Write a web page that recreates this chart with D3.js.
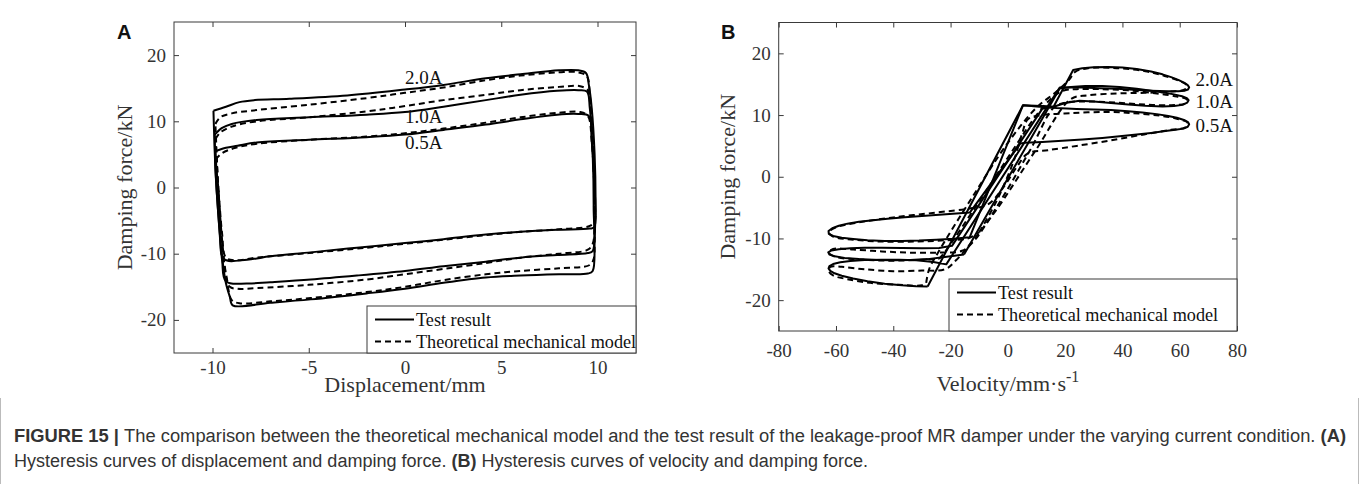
<!DOCTYPE html>
<html>
<head>
<meta charset="utf-8">
<script src="https://cdn.jsdelivr.net/npm/d3@7"></script>
<style>
  body { margin: 0; background: #fff; }
  svg { display: block; }
</style>
</head>
<body>
<svg id="chart" width="1360" height="484"></svg>
<script>
// ---- panel A : displacement (mm) vs damping force (kN) ----
const xTicksA = [-10, -5, 0, 5, 10];
const yTicksA = [-20, -10, 0, 10, 20];

const testA20 = [[-9.95,11.6],[-9.3,12.2],[-8.6,12.9],[-7.8,13.2],[-6,13.4],[-3,13.9],[0,14.8],[2,15.5],[4.2,16.5],[6,17.1],[8,17.7],[9.0,17.7],[9.4,17.3],[9.55,15.5],[9.7,12],[9.85,5],[9.9,-2],[9.85,-8],[9.75,-12.6],[9.5,-13.0],[8,-13.1],[6,-13.3],[4.2,-13.6],[2,-14.4],[0,-15.3],[-2,-16.0],[-4.9,-16.9],[-7,-17.4],[-8.95,-17.8],[-9.1,-16.5],[-9.3,-14.5],[-9.5,-10.5],[-9.7,-4],[-9.85,3],[-9.95,11.6]];
const testA10 = [[-9.88,8.0],[-9.5,9.0],[-9.0,9.6],[-7.7,10.2],[-5,10.6],[-2,11.0],[0,11.4],[2,12.2],[4.2,13.2],[6,14.0],[7.9,14.6],[9.0,14.7],[9.45,14.5],[9.6,12],[9.75,5],[9.8,-3],[9.75,-9.6],[9.5,-9.9],[7.9,-10.2],[6,-10.6],[4.2,-11.2],[2,-11.9],[0,-12.6],[-2.5,-13.3],[-4.9,-13.9],[-7,-14.3],[-8.2,-14.5],[-9.3,-14.2],[-9.5,-11],[-9.7,-4],[-9.85,3],[-9.88,8.0]];
const testA05 = [[-9.84,5.5],[-9.3,6.0],[-8.7,6.3],[-7.7,6.8],[-5,7.2],[-2,7.6],[0,8.0],[2,8.7],[4.2,9.5],[6,10.3],[7.9,11.0],[9.0,11.1],[9.55,10.8],[9.7,7],[9.85,0],[9.83,-6.0],[9.6,-6.2],[7.9,-6.4],[6,-6.7],[4.2,-7.1],[2,-7.8],[0,-8.4],[-2.5,-9.1],[-4.9,-9.8],[-7,-10.4],[-8.2,-10.9],[-9.4,-10.8],[-9.6,-6],[-9.75,0],[-9.84,5.5]];

const modelA20 = [[-9.85,9.6],[-9.6,10.6],[-9.0,11.2],[-8,11.6],[-5,12.5],[-2,13.5],[0,14.3],[2,15.1],[4.2,16.2],[6,16.9],[8,17.4],[9.0,17.4],[9.45,16.8],[9.6,14],[9.75,8],[9.85,0],[9.85,-8],[9.8,-10.8],[9.6,-11.7],[8,-12.2],[6,-12.6],[4.2,-13.1],[2,-14.0],[0,-15.0],[-2,-15.8],[-4.9,-16.7],[-7,-17.2],[-8.6,-17.5],[-9.0,-17.0],[-9.2,-15],[-9.5,-9],[-9.7,0],[-9.85,9.6]];
const modelA10 = [[-9.85,7.3],[-9.6,8.3],[-9.0,9.2],[-7.7,10.0],[-5,10.6],[-2,11.5],[0,12.3],[2,13.2],[4.2,14.0],[6,14.7],[8,15.2],[9.1,15.3],[9.5,14.7],[9.65,12],[9.8,4],[9.85,-5],[9.75,-8.5],[9.5,-9.4],[8,-10.0],[6,-10.6],[4.2,-11.4],[2,-12.3],[0,-13.1],[-2,-13.9],[-5,-14.7],[-7.7,-15.2],[-8.7,-15.3],[-9.1,-15.0],[-9.3,-13],[-9.5,-8],[-9.7,0],[-9.85,7.3]];
const modelA05 = [[-9.85,4.2],[-9.5,5.2],[-8.8,6.0],[-7.7,6.6],[-5,7.2],[-2,7.7],[0,8.2],[2,8.9],[4.2,9.8],[6,10.6],[8,11.3],[9.1,11.4],[9.5,10.8],[9.7,7],[9.85,-2],[9.85,-5.0],[9.6,-5.8],[8,-6.3],[6,-6.7],[4.2,-7.2],[2,-7.9],[0,-8.5],[-2,-9.1],[-5,-9.9],[-7.7,-10.6],[-8.8,-11.0],[-9.3,-10.6],[-9.5,-7],[-9.7,0],[-9.85,4.2]];

// ---- panel B : velocity (mm/s) vs damping force (kN) ----
const xTicksB = [-80, -60, -40, -20, 0, 20, 40, 60, 80];
const yTicksB = [-20, -10, 0, 10, 20];

const testB20 = [[-28,-17.8],[5.3,11.6],[16,11.4],[22.8,17.3],[26,17.6],[30,17.75],[35,17.8],[40,17.7],[45,17.45],[50,17.05],[54,16.6],[57,16.15],[59.5,15.7],[61.5,15.25],[62.8,14.85],[63.3,14.5],[62.9,14.15],[61.8,13.95],[59.5,13.85],[56,13.85],[50,13.95],[44,14.1],[38,14.25],[32,14.35],[26,14.45],[18.1,14.45],[-21.5,-14.2],[-26,-13.8],[-32,-13.55],[-38,-13.45],[-44,-13.45],[-50,-13.5],[-55,-13.65],[-58.5,-13.85],[-61,-14.15],[-62.3,-14.5],[-62.6,-14.85],[-62,-15.25],[-60.5,-15.65],[-58,-16.05],[-54,-16.5],[-49,-16.95],[-43,-17.35],[-37,-17.6],[-32,-17.75],[-28,-17.8]];
const testB10 = [[-15.3,-12.6],[18.1,14.3],[22,14.55],[27,14.7],[33,14.7],[39,14.55],[45,14.25],[50,13.95],[54.5,13.65],[58,13.35],[60.8,13.05],[62.5,12.75],[63.1,12.4],[62.6,12.0],[61,11.65],[58,11.45],[54,11.4],[48,11.5],[42,11.7],[36,11.95],[30,12.2],[25,12.3],[20,11.95],[16,11.35],[12,11.0],[-19.5,-11.2],[-24,-11.55],[-30,-11.6],[-37,-11.55],[-44,-11.5],[-50,-11.5],[-55,-11.6],[-59,-11.75],[-61.6,-11.95],[-62.7,-12.25],[-62.3,-12.6],[-60.5,-12.9],[-57,-13.15],[-52,-13.35],[-46,-13.5],[-40,-13.55],[-34,-13.5],[-28,-13.35],[-22,-13.0],[-15.3,-12.6]];
const testB05 = [[-13.3,-9.8],[5.3,11.6],[10,11.4],[17,11.15],[24,11.0],[30,10.9],[36,10.8],[42,10.6],[47,10.4],[52,10.15],[56,9.85],[59,9.55],[61.5,9.2],[62.9,8.85],[63.3,8.5],[62.8,8.1],[61.3,7.8],[58.5,7.6],[55,7.4],[50,7.1],[45,6.85],[39,6.55],[33,6.3],[26,6.05],[19,5.85],[12,5.65],[6,5.5],[4.4,5.4],[-13.3,-5.8],[-18,-5.95],[-24,-6.15],[-30,-6.35],[-36,-6.55],[-42,-6.8],[-47,-7.05],[-52,-7.3],[-56,-7.6],[-59,-7.95],[-61.3,-8.35],[-62.6,-8.8],[-62.5,-9.25],[-61,-9.6],[-58,-9.9],[-54,-10.1],[-49,-10.3],[-43,-10.4],[-37,-10.4],[-31,-10.35],[-25,-10.2],[-19,-10.05],[-13.3,-9.8]];

const modelB20 = [[-28.5,-17.2],[-27.5,-15],[-24,-12],[-12,-3],[0,5.5],[10,11.2],[17,13.8],[21.5,15.8],[23.5,17.0],[28,17.6],[38,17.6],[48,17.1],[55,16.3],[60,15.5],[62.5,14.8],[62,14.2],[57,13.8],[48,13.6],[38,13.5],[28,13.2],[22,12.6],[10,4.5],[-5,-6],[-18,-13.5],[-22,-15.0],[-30,-15.2],[-40,-15.3],[-50,-15.0],[-58,-14.6],[-62,-14.6],[-62.5,-15.3],[-61,-16.0],[-56,-16.6],[-48,-17.2],[-38,-17.5],[-30,-17.6],[-28.5,-17.2]];
const modelB10 = [[-24,-13.3],[-22,-12.2],[-10,-4],[2,4.5],[10,10],[15,12.6],[19,13.9],[24,14.2],[32,14.2],[42,14.0],[52,13.5],[59,13.0],[62.5,12.5],[62,11.9],[57,11.6],[48,11.7],[38,12.0],[28,12.2],[20,12.0],[16,11.2],[8,4.5],[-4,-5],[-12,-10.5],[-16,-12.0],[-24,-12.3],[-34,-12.3],[-44,-12.1],[-54,-11.8],[-61,-11.7],[-62.5,-12.3],[-60,-13.0],[-52,-13.4],[-42,-13.6],[-32,-13.5],[-24,-13.3]];
const modelB05 = [[-10,-9.0],[-4,-4],[2,2.5],[5,7],[7,9.3],[12,10.0],[22,10.3],[34,10.5],[44,10.3],[53,9.9],[59,9.4],[62.8,8.7],[62,8.0],[57,7.6],[48,6.9],[36,5.9],[24,5.0],[14,4.3],[7,3.8],[3,1.5],[-2,-2],[-7,-4.5],[-14,-5.2],[-25,-5.8],[-40,-6.6],[-52,-7.4],[-60,-8.2],[-62.5,-9.0],[-61,-9.7],[-54,-10.2],[-44,-10.5],[-32,-10.5],[-22,-10.3],[-14,-10.0],[-10,-9.0]];

const currentLabels = ['2.0A', '1.0A', '0.5A'];
const legendLabels = ['Test result', 'Theoretical mechanical model'];

const captionBold = 'FIGURE 15 | ';
const captionLine1 = 'The comparison between the theoretical mechanical model and the test result of the leakage-proof MR damper under the varying current condition. ';
const captionLine2a = 'Hysteresis curves of displacement and damping force. ';
const captionLine2b = ' Hysteresis curves of velocity and damping force.';

const svg = d3.select('#chart');
const serif = '"Liberation Serif", "Times New Roman", serif';
const axisColor = '#3a3a3a';

const smooth = (x, y) => d3.line()
  .x(d => x(d[0]))
  .y(d => y(d[1]))
  .curve(d3.curveCatmullRom.alpha(0.5));
const straight = (x, y) => d3.line()
  .x(d => x(d[0]))
  .y(d => y(d[1]));

function panel(opt) {
  const { x, y } = opt;
  const g = svg.append('g');
  const [x0, x1] = x.range();
  const [y0, y1] = y.range(); // y0 bottom, y1 top
  const testLine = opt.straightTests ? straight(x, y) : smooth(x, y);

  // curves
  opt.tests.forEach(pts => {
    g.append('path')
      .attr('d', testLine(pts))
      .attr('fill', 'none')
      .attr('stroke', '#000')
      .attr('stroke-width', 2)
      .attr('stroke-linejoin', 'round');
  });
  opt.models.forEach(pts => {
    g.append('path')
      .attr('d', smooth(x, y)(pts))
      .attr('fill', 'none')
      .attr('stroke', '#000')
      .attr('stroke-width', 2)
      .attr('stroke-dasharray', '6,4');
  });

  // axes, ticks inward on all four sides
  const styleAxis = (sel, labels) => {
    sel.select('.domain').remove();
    sel.selectAll('line').attr('stroke', axisColor);
    sel.selectAll('text')
      .attr('font-family', serif)
      .attr('font-size', 19)
      .attr('fill', '#333')
      .style('display', labels ? null : 'none');
  };
  g.append('g').attr('transform', `translate(0,${y0})`)
    .call(d3.axisBottom(x).tickValues(opt.xTicks).tickSize(-5).tickPadding(opt.xPad).tickFormat(d => String(d)))
    .call(s => styleAxis(s, true));
  g.append('g').attr('transform', `translate(0,${y1})`)
    .call(d3.axisTop(x).tickValues(opt.xTicks).tickSize(-5))
    .call(s => styleAxis(s, false));
  g.append('g').attr('transform', `translate(${x0},0)`)
    .call(d3.axisLeft(y).tickValues(opt.yTicks).tickSize(-5).tickPadding(8).tickFormat(d => String(d)))
    .call(s => styleAxis(s, true));
  g.append('g').attr('transform', `translate(${x1},0)`)
    .call(d3.axisRight(y).tickValues(opt.yTicks).tickSize(-5))
    .call(s => styleAxis(s, false));

  g.append('rect')
    .attr('x', x0).attr('y', y1)
    .attr('width', x1 - x0).attr('height', y0 - y1)
    .attr('fill', 'none').attr('stroke', axisColor).attr('stroke-width', 1);

  // current labels
  opt.labelPos.forEach((p, i) => {
    g.append('text')
      .attr('x', x(p[0])).attr('y', y(p[1]))
      .attr('dy', '0.35em')
      .attr('font-family', serif).attr('font-size', 19)
      .attr('fill', '#111')
      .text(currentLabels[i]);
  });

  // legend
  const lg = g.append('g');
  lg.append('rect')
    .attr('x', opt.legend.x).attr('y', opt.legend.y)
    .attr('width', x1 - opt.legend.x).attr('height', y0 - opt.legend.y)
    .attr('fill', '#fff').attr('stroke', axisColor).attr('stroke-width', 1);
  legendLabels.forEach((t, i) => {
    const ly = opt.legend.y + 13.5 + i * 22;
    lg.append('line')
      .attr('x1', opt.legend.x + 8).attr('x2', opt.legend.x + 47)
      .attr('y1', ly).attr('y2', ly)
      .attr('stroke', '#000').attr('stroke-width', 2)
      .attr('stroke-dasharray', i ? '6,4' : null);
    lg.append('text')
      .attr('x', opt.legend.x + 49).attr('y', ly)
      .attr('dy', '0.35em')
      .attr('font-family', serif).attr('font-size', 18.2)
      .attr('fill', '#111')
      .text(t);
  });

  // axis titles
  const xl = g.append('text')
    .attr('x', (x0 + x1) / 2).attr('y', opt.xLabelY)
    .attr('text-anchor', 'middle')
    .attr('font-family', serif).attr('font-size', 22)
    .attr('fill', '#333');
  xl.append('tspan').text(opt.xLabel);
  if (opt.xSup) {
    xl.append('tspan').attr('dy', -9).attr('font-size', 16).text(opt.xSup);
  }
  g.append('text')
    .attr('transform', `translate(${opt.yLabelX},${(y0 + y1) / 2}) rotate(-90)`)
    .attr('text-anchor', 'middle')
    .attr('font-family', serif).attr('font-size', 22)
    .attr('fill', '#333')
    .text('Damping force/kN');

  g.append('text')
    .attr('x', opt.letter[0]).attr('y', opt.letter[1])
    .attr('font-family', '"Liberation Sans", Arial, sans-serif')
    .attr('font-weight', 'bold').attr('font-size', 20)
    .attr('fill', '#111')
    .text(opt.name);
}

panel({
  name: 'A',
  x: d3.scaleLinear().domain([-12, 12]).range([174, 636]),
  y: d3.scaleLinear().domain([-25, 25]).range([353, 22]),
  xTicks: xTicksA, yTicks: yTicksA, xPad: 8,
  tests: [testA20, testA10, testA05],
  models: [modelA20, modelA10, modelA05],
  labelPos: [[0, 16.6], [0, 10.7], [0, 6.8]],
  legend: { x: 367, y: 306 },
  xLabel: 'Displacement/mm', xLabelY: 392,
  yLabelX: 132,
  letter: [117, 39]
});

panel({
  name: 'B',
  x: d3.scaleLinear().domain([-80, 80]).range([778.7, 1237]),
  y: d3.scaleLinear().domain([-25, 25]).range([331, 22.5]),
  xTicks: xTicksB, yTicks: yTicksB, xPad: 13,
  straightTests: true,
  tests: [testB20, testB10, testB05],
  models: [modelB20, modelB10, modelB05],
  labelPos: [[65.5, 15.8], [65.5, 12.2], [65.5, 8.4]],
  legend: { x: 949, y: 279 },
  xLabel: 'Velocity/mm·s', xSup: '-1', xLabelY: 391,
  yLabelX: 735,
  letter: [721, 39]
});

// caption frame and text
svg.append('line').attr('x1', 0.5).attr('x2', 0.5).attr('y1', 398).attr('y2', 484).attr('stroke', '#bbb');
svg.append('line').attr('x1', 1358.5).attr('x2', 1358.5).attr('y1', 398).attr('y2', 484).attr('stroke', '#bbb');

const capFont = '"Liberation Sans Narrow", "Arial Narrow", "Liberation Sans", sans-serif';
const c1 = svg.append('text')
  .attr('x', 14).attr('y', 442)
  .attr('font-family', capFont).attr('font-size', 18).attr('fill', '#333')
  .attr('textLength', 1332).attr('lengthAdjust', 'spacingAndGlyphs');
c1.append('tspan').attr('font-weight', 'bold').text(captionBold);
c1.append('tspan').text(captionLine1);
c1.append('tspan').attr('font-weight', 'bold').text('(A)');

const c2 = svg.append('text')
  .attr('x', 14).attr('y', 467)
  .attr('font-family', capFont).attr('font-size', 18).attr('fill', '#333')
  .attr('textLength', 854).attr('lengthAdjust', 'spacingAndGlyphs');
c2.append('tspan').text(captionLine2a);
c2.append('tspan').attr('font-weight', 'bold').text('(B)');
c2.append('tspan').text(captionLine2b);
</script>
</body>
</html>
